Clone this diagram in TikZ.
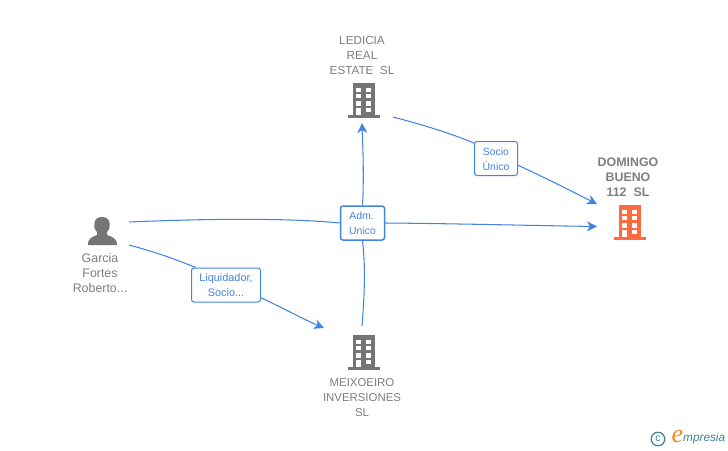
\documentclass[tikz,border=0pt]{standalone}
\usepackage{fontspec}
\setmainfont{Liberation Sans}
\newfontfamily\logoserif{Liberation Serif}
\definecolor{txtgray}{HTML}{7F7F7F}
\definecolor{icongray}{HTML}{757575}
\definecolor{iconorange}{HTML}{FF6B3D}
\definecolor{linkblue}{HTML}{4285E0}
\definecolor{logoteal}{HTML}{3F8296}
\definecolor{logoorange}{HTML}{F08A1D}
\usetikzlibrary{arrows.meta}
\tikzset{
  x=1pt,y=-1pt,
  anchorbox/.style={inner sep=0pt,minimum width=1pt,minimum height=1pt},
  lbl/.style={align=center,text=txtgray,font=\fontsize{11.4}{15}\selectfont,inner sep=0pt},
  lblwide/.style={align=center,text=txtgray,font=\fontsize{12.4}{15}\selectfont,inner sep=0pt},
  lblbold/.style={align=center,text=txtgray,font=\fontsize{12.4}{15.2}\selectfont\bfseries,inner sep=0pt},
  rolebox/.style={draw=linkblue,fill=white,rounded corners=2.5pt,line width=1pt,align=center,text=linkblue,
     font=\fontsize{10.4}{15}\selectfont,inner sep=0pt},
  link/.style={draw=linkblue,line width=1.05pt},
  tip/.style={-{Stealth[length=10pt,width=10pt,inset=3pt]}},
  pics/building/.style={code={
    \fill[#1] (-10.7,-16.7) rectangle (11,15);
    \fill[#1] (-15.7,15) rectangle (16,17.5);
    \foreach \yy/\hh in {-12.2/4,-5.6/4,1.2/4.6}{
      \fill[white] (-7.8,\yy) rectangle (-2.8,\yy+\hh);
      \fill[white] (2.4,\yy) rectangle (7.4,\yy+\hh);
    }
    \fill[white] (-7.8,7.8) rectangle (-2.8,15);
    \fill[white] (2.4,7.8) rectangle (7.4,12);
  }},
}
\begin{document}
\begin{tikzpicture}
\useasboundingbox (0,0) rectangle (728,450);
\fill[white] (0,0) rectangle (728,450);

% free ends of the connectors
\coordinate (gTop) at (129,222);
\coordinate (gBot) at (129,245);
\coordinate (lOut) at (393,117);
\coordinate (lIn) at (362,123);
\coordinate (mOut) at (362,326);
\coordinate (mIn) at (324,328);
\coordinate (dTop) at (597,204);
\coordinate (dMid) at (597,226.5);

% icons
\node[anchorbox] (ledicia) at (364,100) {};
\node[anchorbox] (meixoeiro) at (364,352) {};
\node[anchorbox] (domingo) at (630,222) {};
\node[anchorbox] (garcia) at (102,231) {};
\pic at (ledicia) {building=icongray};
\pic at (meixoeiro) {building=icongray};
\pic at (domingo) {building=iconorange};
\fill[icongray] (88,245) .. controls (88,238) and (92,237) .. (97,235) -- (97,232)
   .. controls (94,229) and (94,226) .. (94.5,223) .. controls (95,219) and (98,217) .. (102,217)
   .. controls (106,217) and (109,219) .. (109.5,223) .. controls (110,226) and (110,229) .. (107,232)
   -- (107,235) .. controls (112,237) and (117,238) .. (117,245) -- cycle;

% role boxes
\node[rolebox,minimum width=44pt,minimum height=34pt,line width=1.5pt] (adm) at (362.5,223) {\hspace*{-1pt}Adm.\hspace*{1pt}\\Unico};
\node[rolebox,minimum width=69pt,minimum height=34pt,font=\fontsize{10.9}{15}\selectfont] (liq) at (226,285) {Liquidador,\\Socio...};
\node[rolebox,minimum width=43pt,minimum height=34pt] (soc) at (496,158.5) {\rule{0pt}{9.5pt}Socio\\Único};

% connectors
\path[link] (gTop) .. controls (210,218.5) and (290,218) .. (adm.west);
\path[link,tip] (adm.east) .. controls (450,223.5) and (530,225.5) .. (dMid);
\path[link] (gBot) .. controls (155,252) and (175,259) .. (liq.150);
\path[link,tip] (liq.-20) .. controls (285,309) and (305,320) .. (mIn);
\path[link] (lOut) .. controls (420,124) and (450,133) .. (soc.145);
\path[link,tip] (soc.-17) .. controls (550,180) and (575,193) .. (dTop);
\path[link] (mOut) .. controls (364,300) and (366,270) .. (adm.south);
\path[link,tip] (adm.north) .. controls (364,180) and (363,150) .. (lIn);

% labels
\node[lbl,font=\fontsize{11.7}{15}\selectfont] (tLedicia) at (362,55.5) {LEDICIA\\REAL\\ESTATE\ \ SL};
\node[lblbold] (tDomingo) at (628,177) {DOMINGO\\BUENO\\112\ \ SL};
\node[lblwide] (tGarcia) at (100,273) {Garcia\\Fortes\\Roberto...};
\node[lbl] (tMeix) at (362,397.5) {MEIXOEIRO\\INVERSIONES\\SL};

% logo
\node[draw=logoteal,circle,line width=1.2pt,minimum size=13.5pt,inner sep=0pt,text=logoteal,font=\fontsize{10.5}{10.5}\selectfont] (copy) at (658,439) {c};
\node[inner sep=0pt,text=logoorange,font=\fontsize{26}{26}\selectfont\logoserif\itshape] (logoE) at (677.5,436.5) {e};
\node[inner sep=0pt,text=logoteal,font=\fontsize{11.8}{12}\selectfont\itshape,anchor=west] (logoT) at (683,438.5) {mpresia};
\end{tikzpicture}
\end{document}
